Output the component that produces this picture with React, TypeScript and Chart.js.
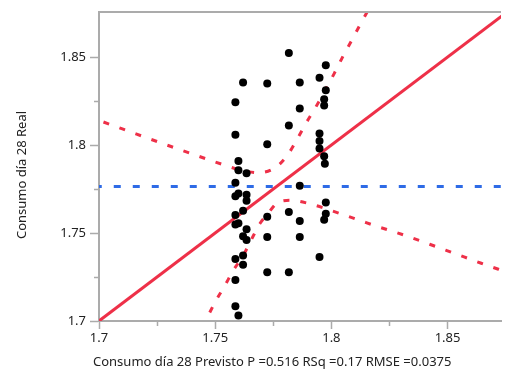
import { useEffect, useRef } from 'react';
import { Chart, registerables } from 'chart.js';

Chart.register(...registerables);

// Observations: predicted vs. actual consumption on day 28
const predicted = [
  1.7587, 1.7587, 1.7587, 1.7587, 1.7587, 1.7587, 1.7587, 1.7587, 1.7587,
  1.76, 1.76, 1.76, 1.76, 1.76,
  1.762, 1.762, 1.762, 1.762, 1.762,
  1.7635, 1.7635, 1.7635, 1.7635, 1.7635,
  1.7724, 1.7724, 1.7724, 1.7724, 1.7724,
  1.7817, 1.7817, 1.7817, 1.7817,
  1.7864, 1.7864, 1.7864, 1.7864, 1.7864,
  1.7949, 1.7949, 1.7949, 1.7949, 1.7949,
  1.7969, 1.7969, 1.7969, 1.7969,
  1.7976, 1.7976, 1.7976, 1.7976,
  1.7972,
];
const actual = [
  1.8243, 1.8058, 1.7785, 1.7709, 1.7603, 1.7549, 1.7352, 1.7233, 1.7084,
  1.7909, 1.7856, 1.7724, 1.7556, 1.7031,
  1.8356, 1.7626, 1.7481, 1.7372, 1.732,
  1.7839, 1.7717, 1.7683, 1.7521, 1.7461,
  1.8349, 1.8005, 1.7592, 1.7478, 1.7277,
  1.8523, 1.8111, 1.7619, 1.7277,
  1.8356, 1.8207, 1.7768, 1.7568, 1.7478,
  1.8383, 1.8066, 1.8023, 1.798, 1.7364,
  1.826, 1.8224, 1.7936, 1.7575,
  1.8453, 1.8311, 1.7673, 1.761,
  1.7894,
];

// Mean of the actual response
const meanActual = 1.7765;

// Confidence curves around the fit line
const upperBandX = [1.695, 1.701, 1.7159, 1.7307, 1.7458, 1.7531, 1.761, 1.7685, 1.7759, 1.7813, 1.7856, 1.7894, 1.7934, 1.8012, 1.8047, 1.8085, 1.8122, 1.816];
const upperBandY = [1.8162, 1.8135, 1.8063, 1.7993, 1.7923, 1.789, 1.7858, 1.7843, 1.7872, 1.7946, 1.8041, 1.8131, 1.8218, 1.8406, 1.8497, 1.8589, 1.868, 1.877];
const lowerBandX = [1.7445, 1.7464, 1.75, 1.754, 1.7578, 1.7621, 1.7656, 1.7692, 1.7727, 1.7763, 1.782, 1.7895, 1.8047, 1.8122, 1.8196, 1.8273, 1.8348, 1.8423, 1.8497, 1.8571, 1.8645, 1.8719, 1.88];
const lowerBandY = [1.696, 1.7014, 1.7108, 1.7197, 1.7288, 1.7373, 1.7463, 1.7553, 1.761, 1.7667, 1.7686, 1.767, 1.7606, 1.7572, 1.7538, 1.7506, 1.7472, 1.7436, 1.74, 1.7364, 1.7328, 1.7294, 1.726];

// Fit line (actual = predicted)
const fitX = [1.7, 1.88];

const xMajorTicks = [1.7, 1.75, 1.8, 1.85];
const yMajorTicks = [1.7, 1.75, 1.8, 1.85];
const minorTicks = [1.725, 1.775, 1.825];

const xRange = [1.7, 1.873];
const yRange = [1.7, 1.8756];

const xTitle = 'Consumo día 28 Previsto P =0.516 RSq =0.17 RMSE =0.0375';
const yTitle = 'Consumo día 28 Real';

const FONT = '"Noto Sans", "Open Sans", sans-serif';
const AXIS_GRAY = '#ababab';
const RED = '#ee3048';
const BLUE = '#2e6be6';

const frameAndTitles = {
  id: 'frameAndTitles',
  afterDraw(chart: any) {
    const { ctx, chartArea } = chart;
    const xs = chart.scales.x;
    const ys = chart.scales.y;
    ctx.save();
    ctx.strokeStyle = AXIS_GRAY;
    ctx.lineWidth = 2;
    // top frame line
    ctx.beginPath();
    ctx.moveTo(chartArea.left, chartArea.top);
    ctx.lineTo(chartArea.right, chartArea.top);
    ctx.stroke();
    // minor ticks
    ctx.lineWidth = 1.5;
    ctx.beginPath();
    for (const v of minorTicks) {
      const px = Math.round(xs.getPixelForValue(v)) + 0.5;
      ctx.moveTo(px, chartArea.bottom);
      ctx.lineTo(px, chartArea.bottom + 5);
      const py = Math.round(ys.getPixelForValue(v)) + 0.5;
      ctx.moveTo(chartArea.left, py);
      ctx.lineTo(chartArea.left - 5, py);
    }
    ctx.stroke();

    ctx.fillStyle = '#222';
    ctx.font = `13px ${FONT}`;
    ctx.textBaseline = 'middle';
    ctx.textAlign = 'left';
    ctx.fillText(xTitle, 93, 362);

    ctx.translate(22, 175);
    ctx.rotate(-Math.PI / 2);
    ctx.textAlign = 'center';
    ctx.fillText(yTitle, 0, 0);
    ctx.restore();
  },
};

export default function App() {
  const canvasRef = useRef<HTMLCanvasElement | null>(null);

  useEffect(() => {
    document.body.style.margin = '0';
    const canvas = canvasRef.current;
    if (!canvas) return;

    const points = predicted.map((x, i) => ({ x, y: actual[i] }));
    const upper = upperBandX.map((x, i) => ({ x, y: upperBandY[i] }));
    const lower = lowerBandX.map((x, i) => ({ x, y: lowerBandY[i] }));
    const fit = fitX.map((x) => ({ x, y: x }));
    const mean = [{ x: 1.69, y: meanActual }, { x: 1.89, y: meanActual }];

    const lineBase = {
      type: 'line' as const,
      showLine: true,
      pointRadius: 0,
      fill: false,
      clip: 0,
      borderWidth: 3,
    };

    const chart = new Chart(canvas, {
      type: 'scatter',
      data: {
        datasets: [
          {
            label: 'Actual',
            data: points,
            pointRadius: 4,
            pointBackgroundColor: '#000',
            pointBorderColor: '#000',
            pointBorderWidth: 0,
            order: 0,
          },
          { ...lineBase, label: 'Fit', data: fit, borderColor: RED, order: 1 },
          { ...lineBase, label: 'Upper', data: upper, borderColor: RED, borderDash: [6, 11], cubicInterpolationMode: 'monotone', order: 2 },
          { ...lineBase, label: 'Lower', data: lower, borderColor: RED, borderDash: [6, 11], cubicInterpolationMode: 'monotone', order: 3 },
          { ...lineBase, label: 'Mean', data: mean, borderColor: BLUE, borderDash: [7, 12], order: 4 },
        ] as any,
      },
      options: {
        animation: false,
        responsive: false,
        maintainAspectRatio: false,
        devicePixelRatio: 1,
        layout: { padding: { top: 12, right: 0, left: 0, bottom: 0 } },
        plugins: { legend: { display: false }, tooltip: { enabled: false } },
        scales: {
          x: {
            type: 'linear',
            min: xRange[0],
            max: xRange[1],
            afterBuildTicks: (scale: any) => {
              scale.ticks = xMajorTicks.map((value) => ({ value }));
            },
            afterFit: (scale: any) => {
              scale.height = 51;
            },
            ticks: {
              color: '#222',
              font: { family: FONT, size: 13 },
              padding: 1,
              maxRotation: 0,
              autoSkip: false,
              callback: (v: any) => String(v),
            },
            grid: { drawOnChartArea: false, drawTicks: true, tickLength: 8, tickColor: AXIS_GRAY, tickWidth: 1.5 },
            border: { display: true, color: AXIS_GRAY, width: 2 },
          },
          y: {
            type: 'linear',
            min: yRange[0],
            max: yRange[1],
            afterBuildTicks: (scale: any) => {
              scale.ticks = yMajorTicks.map((value) => ({ value }));
            },
            afterFit: (scale: any) => {
              scale.width = 99;
            },
            ticks: {
              color: '#222',
              font: { family: FONT, size: 13 },
              padding: 4,
              autoSkip: false,
              callback: (v: any) => String(v),
            },
            grid: { drawOnChartArea: false, drawTicks: true, tickLength: 9, tickColor: AXIS_GRAY, tickWidth: 1.5 },
            border: { display: true, color: AXIS_GRAY, width: 2 },
          },
        },
      },
      plugins: [frameAndTitles],
    });

    return () => chart.destroy();
  }, []);

  return (
    <div style={{ width: 505, height: 372, background: '#fff' }}>
      <canvas ref={canvasRef} width={505} height={372} style={{ display: 'block' }} />
    </div>
  );
}
